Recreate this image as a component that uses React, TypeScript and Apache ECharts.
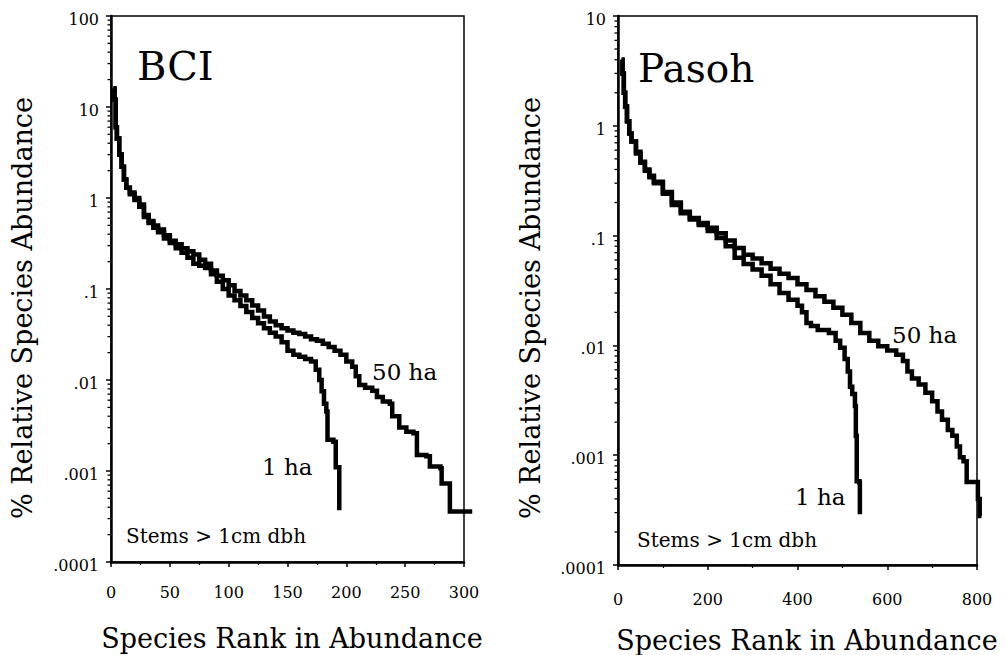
import React, { useEffect, useRef } from "react";
import * as echarts from "echarts";

// BCI: [species rank, % relative abundance]
const BCI_50HA: [number, number][] = [
  [2, 16], [3, 12], [4, 6], [5, 4.5], [7, 3.0], [9, 2.2], [11, 1.6], [13, 1.3], [16, 1.15],
  [20, 1.0], [24, 0.85], [28, 0.65], [32, 0.56], [36, 0.5], [40, 0.45], [45, 0.39], [50, 0.34],
  [55, 0.31], [60, 0.28], [65, 0.26], [70, 0.24], [75, 0.21], [80, 0.19], [85, 0.16], [90, 0.14],
  [95, 0.125], [100, 0.11], [105, 0.095], [110, 0.085], [115, 0.075], [120, 0.066], [125, 0.058],
  [130, 0.05], [135, 0.044], [140, 0.04], [145, 0.037], [150, 0.035], [155, 0.033], [160, 0.032],
  [165, 0.03], [170, 0.028], [175, 0.027], [180, 0.025], [185, 0.023], [190, 0.021], [195, 0.019],
  [200, 0.016], [205, 0.014], [208, 0.011], [211, 0.0088], [216, 0.0082], [222, 0.0076],
  [226, 0.0065], [231, 0.0058], [237, 0.0055], [239, 0.0040], [245, 0.0030], [251, 0.0027],
  [257, 0.0026], [260, 0.0015], [268, 0.00145], [271, 0.00112], [280, 0.00107], [281, 0.00073],
  [287, 0.00073], [288, 0.00036], [307, 0.00036],
];
const BCI_1HA: [number, number][] = [
  [2, 16], [3, 12], [4, 6], [5, 4.5], [7, 3.0], [9, 2.2], [11, 1.6], [13, 1.3], [16, 1.1],
  [20, 0.95], [24, 0.8], [28, 0.62], [32, 0.53], [36, 0.47], [40, 0.42], [45, 0.36], [50, 0.32],
  [55, 0.28], [60, 0.25], [65, 0.22], [70, 0.19], [75, 0.18], [80, 0.17], [85, 0.145], [90, 0.12],
  [95, 0.1], [100, 0.085], [105, 0.075], [110, 0.065], [115, 0.056], [120, 0.048], [125, 0.042],
  [130, 0.037], [135, 0.033], [140, 0.03], [145, 0.026], [150, 0.021], [155, 0.019], [160, 0.018],
  [165, 0.017], [170, 0.016], [174, 0.013], [177, 0.01], [179, 0.0075], [181, 0.0055],
  [183, 0.0045], [184, 0.0022], [189, 0.0021], [191, 0.0011], [194, 0.00037],
];

// Pasoh: [species rank, % relative abundance]
const PASOH_50HA: [number, number][] = [
  [8, 4.0], [10, 3.0], [13, 2.0], [16, 1.5], [20, 1.1], [25, 0.85], [30, 0.72], [40, 0.58],
  [50, 0.47], [60, 0.40], [70, 0.35], [80, 0.31], [100, 0.25], [120, 0.2], [140, 0.165],
  [160, 0.145], [180, 0.13], [200, 0.118], [220, 0.105], [240, 0.09], [260, 0.077], [280, 0.067],
  [300, 0.062], [320, 0.056], [340, 0.05], [360, 0.045], [380, 0.041], [400, 0.036], [420, 0.032],
  [440, 0.028], [460, 0.025], [480, 0.022], [500, 0.019], [520, 0.016], [540, 0.013], [560, 0.011],
  [580, 0.0098], [600, 0.009], [620, 0.0082], [635, 0.0072], [645, 0.0058], [655, 0.005],
  [670, 0.0044], [685, 0.0037], [700, 0.0031], [712, 0.0025], [722, 0.0021], [735, 0.0017],
  [745, 0.0015], [755, 0.0012], [762, 0.00096], [770, 0.00088], [777, 0.00057], [801, 0.00057],
  [802, 0.0004], [806, 0.00028], [810, 0.00028],
];
const PASOH_1HA: [number, number][] = [
  [8, 4.0], [10, 3.0], [13, 2.0], [16, 1.5], [20, 1.1], [25, 0.85], [30, 0.72], [40, 0.56],
  [50, 0.46], [60, 0.39], [70, 0.34], [80, 0.3], [100, 0.24], [120, 0.19], [140, 0.16],
  [160, 0.14], [180, 0.125], [200, 0.11], [220, 0.095], [240, 0.08], [260, 0.063], [280, 0.055],
  [300, 0.049], [320, 0.043], [340, 0.036], [360, 0.03], [380, 0.026], [400, 0.023], [410, 0.02],
  [420, 0.016], [430, 0.015], [445, 0.0138], [470, 0.013], [485, 0.011], [495, 0.0095],
  [505, 0.0075], [512, 0.0058], [517, 0.0042], [522, 0.0036], [528, 0.0028], [530, 0.0015],
  [532, 0.00058], [538, 0.00056], [539, 0.00029],
];

const BCI_X_TICKS = { min: 0, max: 300, interval: 50 };
const PASOH_X_TICKS = { min: 0, max: 800, interval: 200 };
const BCI_Y_RANGE = { min: 0.0001, max: 100 };
const PASOH_Y_RANGE = { min: 0.0001, max: 10 };
const Y_TICK_LABELS: Record<string, string> = {
  "2": "100", "1": "10", "0": "1", "-1": ".1", "-2": ".01", "-3": ".001", "-4": ".0001",
};

const FONT = "'DejaVu Serif', serif";

function minorLogTicks(lo: number, hi: number): [number, number][] {
  const out: [number, number][] = [];
  for (let d = lo; d < hi * 0.999; d *= 10) {
    for (let k = 2; k <= 9; k++) out.push([0, d * k]);
  }
  return out;
}

export default function App() {
  const ref = useRef<HTMLDivElement>(null);
  useEffect(() => {
    if (!ref.current) return;
    const chart = echarts.init(ref.current, undefined, { renderer: "svg" });
    const grids = [
      { left: 111, top: 16, width: 353, height: 546 },
      { left: 618, top: 16, width: 359, height: 549 },
    ].map((g) => ({ ...g, show: true, borderColor: "#000", borderWidth: 1.5, backgroundColor: "transparent" }));

    const xAxisBase = (gi: number, t: { min: number; max: number; interval: number }, margin: number) => ({
      type: "value",
      gridIndex: gi,
      min: t.min,
      max: t.max,
      interval: t.interval,
      axisLine: { show: true, onZero: false, lineStyle: { color: "#000", width: 2.5 } },
      axisTick: { show: true, length: 5, lineStyle: { color: "#000", width: 1.5 } },
      minorTick: { show: true, splitNumber: 2, length: 3, lineStyle: { color: "#000", width: 1.2 } },
      splitLine: { show: false },
      axisLabel: { color: "#000", fontFamily: FONT, fontSize: 16, margin },
    });
    const yAxisBase = (gi: number, r: { min: number; max: number }) => ({
      type: "log",
      logBase: 10,
      gridIndex: gi,
      min: r.min,
      max: r.max,
      interval: 1,
      axisLine: { show: true, lineStyle: { color: "#000", width: 2.5 } },
      axisTick: { show: true, length: 5, lineStyle: { color: "#000", width: 1.5 } },
      splitLine: { show: false },
      axisLabel: {
        color: "#000",
        fontFamily: FONT,
        fontSize: 16,
        margin: 12,
        formatter: (v: number) => `{t|${Y_TICK_LABELS[String(Math.round(Math.log10(v)))] ?? ""}}`,
        rich: {
          t: { fontFamily: FONT, fontSize: 16, color: "#000", padding: [7, 0, 0, 0] },
        },
      },
    });

    // step curve drawn through the axes' own scales (api.coord); not clipped, like the original
    const stepCurve = (data: [number, number][], xi: number) => ({
      type: "custom",
      xAxisIndex: xi,
      yAxisIndex: xi,
      data,
      encode: { x: 0, y: 1 },
      clip: false,
      silent: true,
      renderItem: (params: any, api: any) => {
        if (params.dataIndex !== 0) return { type: "group", children: [] };
        const pts: number[][] = [];
        data.forEach(([x, y], i) => {
          if (i > 0) pts.push(api.coord([x, data[i - 1][1]]));
          pts.push(api.coord([x, y]));
        });
        return {
          type: "polyline",
          shape: { points: pts },
          style: { stroke: "#000", lineWidth: 4.5, fill: null, lineJoin: "miter" },
        };
      },
    });
    const minorSeries = (data: [number, number][], xi: number) => ({
      type: "custom",
      xAxisIndex: xi,
      yAxisIndex: xi,
      data,
      encode: { x: 0, y: 1 },
      clip: false,
      silent: true,
      renderItem: (_p: any, api: any) => {
        const pt = api.coord([api.value(0), api.value(1)]);
        return {
          type: "line",
          shape: { x1: pt[0] - 3.5, y1: pt[1], x2: pt[0], y2: pt[1] },
          style: { stroke: "#000", lineWidth: 1.3 },
        };
      },
    });

    const txt = (text: string, x: number, y: number, size: number, extra: any = {}) => ({
      type: "text",
      x,
      y,
      ...extra,
      style: { text, fill: "#000", font: `${size}px ${FONT}`, align: "left", verticalAlign: "middle", ...(extra.style || {}) },
    });

    chart.setOption({
      animation: false,
      backgroundColor: "#fff",
      grid: grids,
      xAxis: [xAxisBase(0, BCI_X_TICKS, 22), xAxisBase(1, PASOH_X_TICKS, 26)],
      yAxis: [yAxisBase(0, BCI_Y_RANGE), yAxisBase(1, PASOH_Y_RANGE)],
      series: [
        stepCurve(BCI_50HA, 0),
        stepCurve(BCI_1HA, 0),
        stepCurve(PASOH_50HA, 1),
        stepCurve(PASOH_1HA, 1),
        minorSeries(minorLogTicks(BCI_Y_RANGE.min, BCI_Y_RANGE.max), 0),
        minorSeries(minorLogTicks(PASOH_Y_RANGE.min, PASOH_Y_RANGE.max), 1),
      ],
      graphic: [
        txt("BCI", 137, 66, 40),
        txt("Pasoh", 638, 68, 39),
        txt("50 ha", 372, 372, 23),
        txt("1 ha", 262, 467, 23),
        txt("50 ha", 892, 335, 23),
        txt("1 ha", 795, 497, 23),
        txt("Stems > 1cm dbh", 126, 536, 20),
        txt("Stems > 1cm dbh", 637, 540, 20),
        txt("Species Rank in Abundance", 292, 638, 27, { style: { align: "center" } }),
        txt("Species Rank in Abundance", 807, 640, 27, { style: { align: "center" } }),
        txt("% Relative Species Abundance", 22, 308, 27, { rotation: Math.PI / 2, style: { align: "center" } }),
        txt("% Relative Species Abundance", 530, 308, 27, { rotation: Math.PI / 2, style: { align: "center" } }),
      ],
    });
    return () => chart.dispose();
  }, []);
  return (
    <div
      ref={ref}
      style={{ position: "absolute", left: 0, top: 0, width: 1005, height: 655, background: "#fff" }}
    />
  );
}
